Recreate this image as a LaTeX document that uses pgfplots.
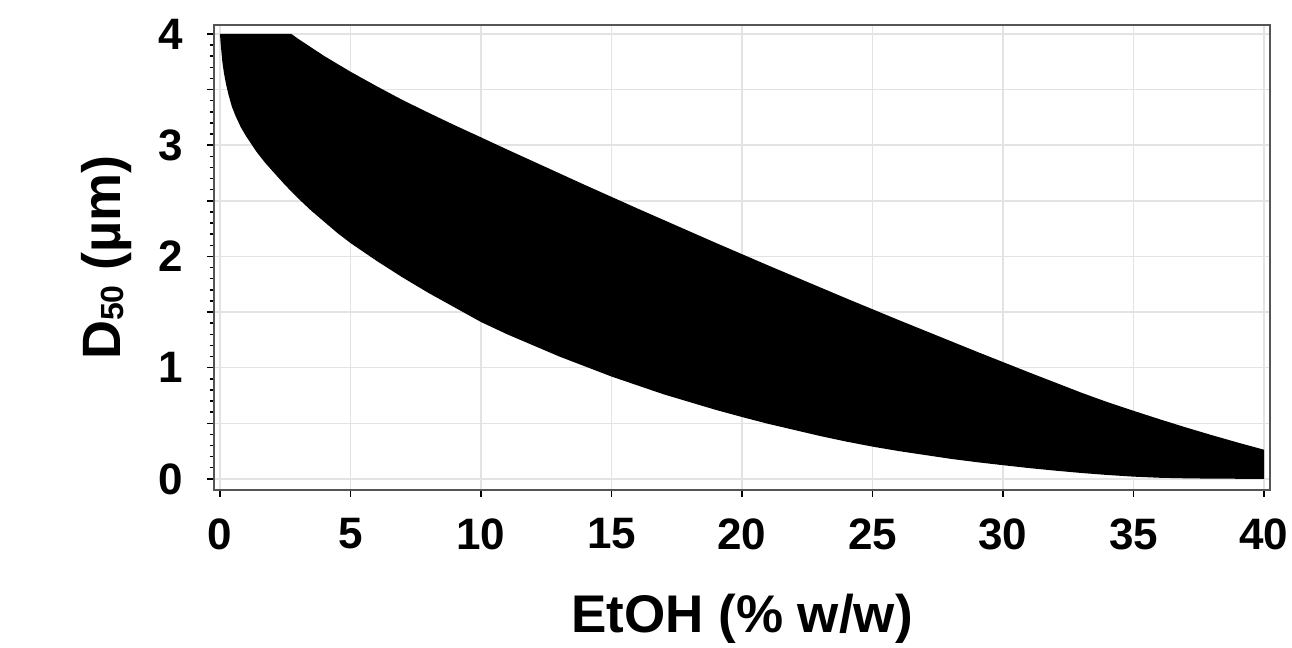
\documentclass[border=0pt]{standalone}
\usepackage{fontspec}
\setmainfont{Liberation Sans}
\usepackage{pgfplots}
\pgfplotsset{compat=1.18}
\definecolor{gridc}{HTML}{E3E3E3}
\definecolor{axc}{HTML}{555555}
\begin{document}
\begin{tikzpicture}
\begin{axis}[
  name=ax,
  scale only axis,
  width=1056pt, height=465pt,
  xmin=-0.23, xmax=40.23,
  ymin=-0.1, ymax=4.08,
  xtick={0,5,...,40},
  ytick={0,0.5,...,4},
  yticklabels={0,,1,,2,,3,,4},
  minor y tick num=4,
  tick align=outside,
  xtick pos=bottom, ytick pos=left,
  major tick length=7pt, minor tick length=4pt,
  xmajorgrids, ymajorgrids,
  major grid style={draw=gridc, line width=1.5pt},
  axis line style={draw=axc, line width=2pt},
  every tick/.style={black, line width=1.5pt},
  /pgf/number format/assume math mode=true,
  tick label style={font=\fontsize{44}{44}\selectfont\bfseries},
  xticklabel style={yshift=-18pt},
  yticklabel style={xshift=-20pt},
  xlabel={EtOH (\% w/w)},
  ylabel={D\raisebox{-0.06em}{\fontsize{32}{32}\selectfont 50} (µm)},
  xlabel style={font=\fontsize{53}{53}\selectfont\bfseries, at={(axis description cs:0.5,-0.3075)}, anchor=base},
  ylabel style={font=\fontsize{54}{54}\selectfont\bfseries, at={(axis description cs:-0.089,0.5)}, anchor=base},
]
\addplot[fill=black, draw=none] coordinates {
(0,4) (2.73,4) (3,3.955) (4,3.80) (5,3.66) (6,3.53) (7,3.405) (8,3.29) (9,3.178) (10,3.07)
(11,2.961) (12,2.854) (13,2.747) (14,2.640) (15,2.535) (16,2.430) (17,2.327) (18,2.224) (19,2.121) (20,2.02)
(21,1.919) (22,1.820) (23,1.721) (24,1.622) (25,1.525) (26,1.428) (27,1.333) (28,1.238) (29,1.143) (30,1.05)
(31,0.957) (32,0.866) (33,0.775) (34,0.690) (35,0.612) (36,0.536) (37,0.463) (38,0.393) (39,0.326) (40,0.262)
(40,0)
(38,0.002) (37,0.005) (36,0.01) (35,0.02) (34,0.035) (33,0.053) (32,0.074) (31,0.097) (30,0.123)
(29,0.15) (28,0.18) (27,0.215) (26,0.25) (25,0.29) (24,0.335) (23,0.385) (22,0.44) (21,0.495) (20,0.556)
(19,0.62) (18,0.69) (17,0.76) (16,0.84) (15,0.92) (14,1.01) (13,1.10) (12,1.20) (11,1.30) (10,1.41)
(9,1.54) (8,1.67) (7,1.81) (6,1.96) (5,2.12) (4.5,2.21) (4,2.31) (3.5,2.41) (3,2.52) (2.5,2.64)
(2,2.77) (1.7,2.85) (1.4,2.94) (1.2,3.01) (1.0,3.08) (0.8,3.16) (0.6,3.26) (0.45,3.35) (0.33,3.45)
(0.23,3.55) (0.15,3.65) (0.09,3.75) (0.05,3.85) (0.02,3.93) (0,4)
};
\end{axis}
\path ([xshift=-214pt,yshift=-152pt]ax.south west) rectangle ([xshift=22pt,yshift=25pt]ax.north east);
\end{tikzpicture}
\end{document}
